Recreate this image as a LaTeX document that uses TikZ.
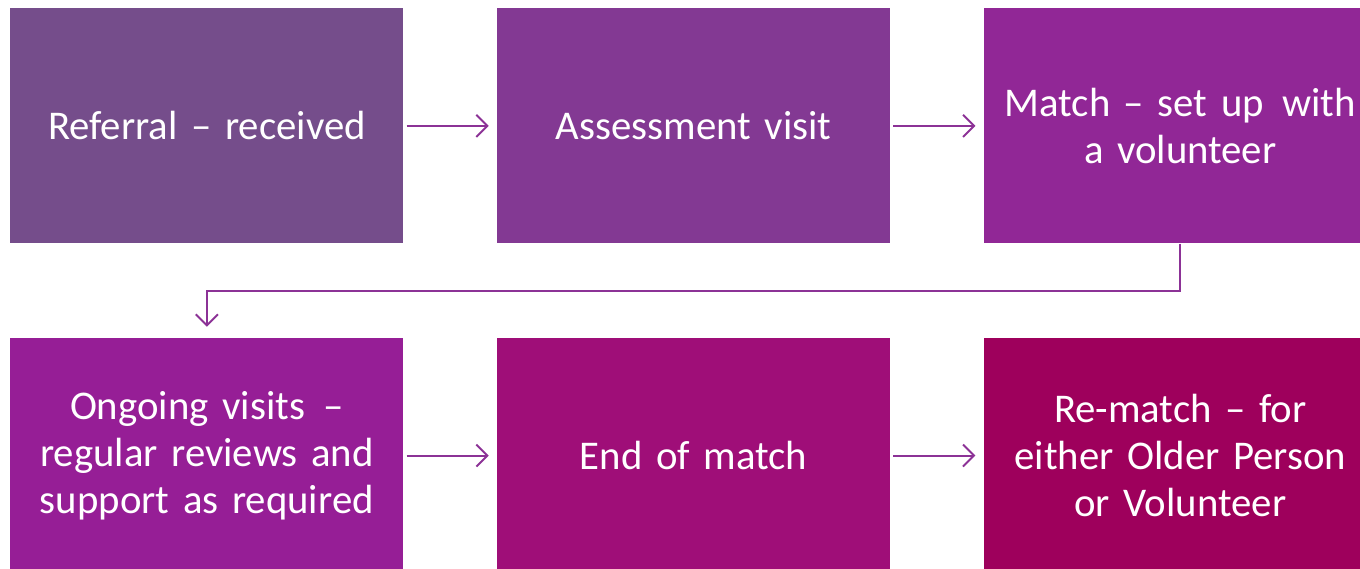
\documentclass[tikz,border=0pt]{standalone}
\usepackage{fontspec}
\setmainfont{Carlito}[WordSpace=0.85]
\usetikzlibrary{positioning, arrows.meta}

\definecolor{stepA}{RGB}{117,77,139}
\definecolor{stepB}{RGB}{131,57,147}
\definecolor{stepC}{RGB}{145,39,150}
\definecolor{stepD}{RGB}{150,30,150}
\definecolor{stepE}{RGB}{159,14,120}
\definecolor{stepF}{RGB}{158,0,92}
\definecolor{arrowcol}{RGB}{140,50,150}

\begin{document}
\begin{tikzpicture}[node distance=1.86cm]
    \tikzstyle{block} = [rectangle,minimum width=7.86cm,minimum height=4.7cm,text width=7.7cm,align=center,text=white,font=\fontsize{23.2}{26.6}\selectfont,inner sep=0pt]
    \tikzstyle{flow} = [draw=arrowcol,line width=1.1pt,-{Straight Barb[length=2.2mm,width=4.4mm]}]

    \useasboundingbox (0,0) rectangle (27.2,-11.38);

    \node (referral) [block, fill=stepA, anchor=north west] at (0.2,-0.16) {Referral -- received};
    \node (assess) [block, fill=stepB, right=of referral] {Assessment visit};
    \node (match) [block, fill=stepC, right=of assess] {Match -- set up\hspace{0.45em}with\\ a volunteer};

    \node (ongoing) [block, fill=stepD, below=1.88cm of referral] {Ongoing visits\hspace{0.45em}--\\ regular reviews and\\ support as required};
    \node (endm) [block, fill=stepE, right=of ongoing] {End of match};
    \node (rematch) [block, fill=stepF, right=of endm] {Re-match -- for\\ either Older Person\\ or Volunteer};

    \draw [flow, shorten <=0.06cm, shorten >=0.16cm] (referral.east) -- (assess.west);
    \draw [flow, shorten <=0.06cm, shorten >=0.16cm] (assess.east) -- (match.west);

    \draw [flow, shorten >=0.22cm] (match.south) -- ++(0,-0.94) -| (ongoing.north);

    \draw [flow, shorten <=0.06cm, shorten >=0.16cm] (ongoing.east) -- (endm.west);
    \draw [flow, shorten <=0.06cm, shorten >=0.16cm] (endm.east) -- (rematch.west);
\end{tikzpicture}
\end{document}
